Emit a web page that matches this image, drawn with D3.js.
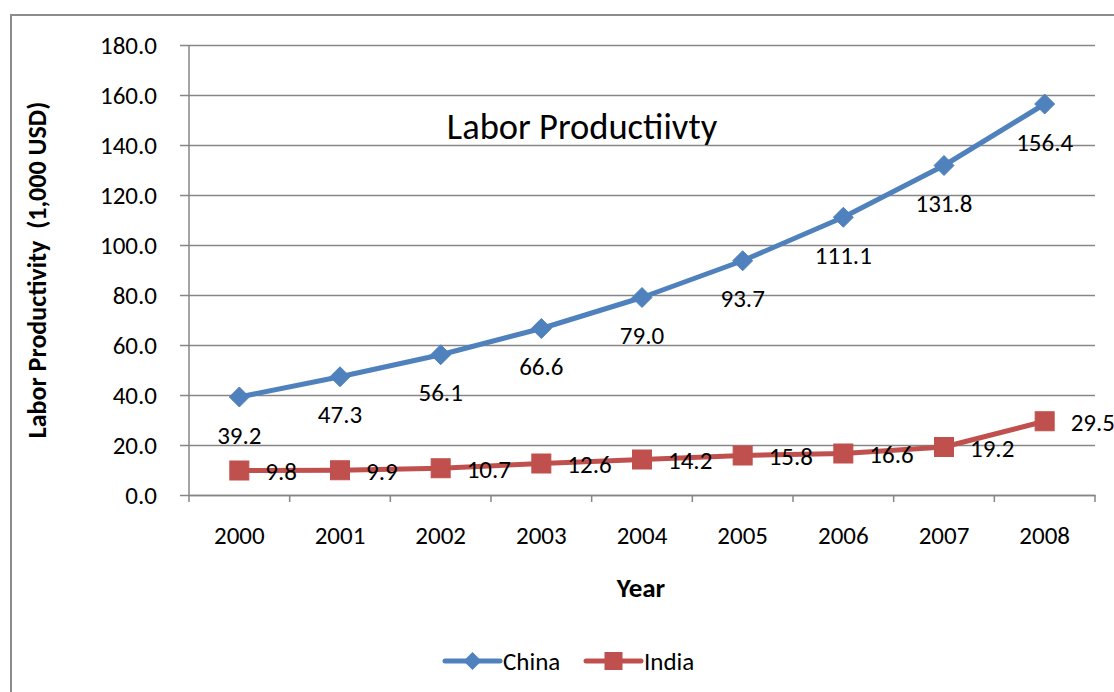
<!DOCTYPE html>
<html><head><meta charset="utf-8">
<script src="https://cdn.jsdelivr.net/npm/d3@7"></script>
<style>
html,body{margin:0;padding:0;background:#fff;}
svg{display:block;}
text{font-family:Carlito, Calibri, Lato, "Open Sans", sans-serif;fill:#000;}
</style></head>
<body>
<svg id="chart" width="1114" height="692"></svg>
<script>
const years = ["2000","2001","2002","2003","2004","2005","2006","2007","2008"];
const china = [39.2, 47.3, 56.1, 66.6, 79.0, 93.7, 111.1, 131.8, 156.4];
const india = [9.8, 9.9, 10.7, 12.6, 14.2, 15.8, 16.6, 19.2, 29.5];
const yTicks = [0, 20, 40, 60, 80, 100, 120, 140, 160, 180];
const seriesNames = ["China", "India"];
const colors = ["#4F81BD", "#C0504D"];

(function () {
const FS = 25;
const svg = d3.select("#chart");
// outer chart border (clipped at right/bottom)
svg.append("rect").attr("x", 11).attr("y", 15).attr("width", 1120).attr("height", 700)
  .attr("fill", "#fff").attr("stroke", "#8c8c8c").attr("stroke-width", 2);

const pL = 189, pR = 1095, pT = 45, pB = 495;
const x = d3.scaleBand().domain(years).range([pL, pR]).padding(0);
const y = d3.scaleLinear().domain([0, 180]).range([pB, pT]);
const cx = d => x(d) + x.bandwidth() / 2;

// gridlines + y axis
const yAxis = d3.axisLeft(y).tickValues(yTicks).tickSize(pR - pL + 9).tickFormat(d3.format(".1f")).tickPadding(8);
const gy = svg.append("g").attr("transform", `translate(${pR},0)`).call(yAxis);
gy.select(".domain").remove();
gy.selectAll(".tick line").attr("stroke", "#868686").attr("stroke-width", 1.5);
gy.selectAll(".tick text").attr("x", -(pR - pL) - 9 - 23).attr("font-size", FS).attr("text-anchor", "end");
// vertical axis line
svg.append("line").attr("x1", pL).attr("x2", pL).attr("y1", pT).attr("y2", pB)
  .attr("stroke", "#868686").attr("stroke-width", 1.5);

// x axis
const xAxis = d3.axisBottom(x).tickSize(0).tickPadding(31);
const gx = svg.append("g").attr("transform", `translate(0,${pB})`).call(xAxis);
gx.select(".domain").attr("stroke", "#868686").attr("stroke-width", 1.5);
gx.selectAll(".tick text").attr("font-size", FS);
// category boundary ticks
const bounds = years.map(d => x(d)).concat([pR]);
svg.append("g").selectAll("line").data(bounds).join("line")
  .attr("x1", d => d).attr("x2", d => d).attr("y1", pB).attr("y2", pB + 7)
  .attr("stroke", "#868686").attr("stroke-width", 1.5);

// lines
const line = d3.line().x((d, i) => cx(years[i])).y(d => y(d));
[china, india].forEach((data, si) => {
  svg.append("path").datum(data).attr("d", line).attr("fill", "none")
    .attr("stroke", colors[si]).attr("stroke-width", 5).attr("stroke-linejoin", "round");
});
// china markers (diamond)
const diamond = (px, py, r) => `M${px},${py - r}L${px + r},${py}L${px},${py + r}L${px - r},${py}Z`;
svg.append("g").selectAll("path").data(china).join("path")
  .attr("d", (d, i) => diamond(cx(years[i]), y(d), 10))
  .attr("fill", colors[0]).attr("stroke", colors[0]).attr("stroke-width", 1);
// india markers (square)
svg.append("g").selectAll("rect").data(india).join("rect")
  .attr("x", (d, i) => cx(years[i]) - 9.5).attr("y", d => y(d) - 9.5)
  .attr("width", 19).attr("height", 19).attr("fill", colors[1]).attr("stroke", colors[1]).attr("stroke-width", 1);

// data labels
svg.append("g").selectAll("text").data(china).join("text")
  .attr("x", (d, i) => cx(years[i])).attr("y", d => y(d) + 38)
  .attr("text-anchor", "middle").attr("dominant-baseline", "central").attr("font-size", FS)
  .text(d => d.toFixed(1));
svg.append("g").selectAll("text").data(india).join("text")
  .attr("x", (d, i) => cx(years[i]) + 26).attr("y", d => y(d) + 1)
  .attr("text-anchor", "start").attr("dominant-baseline", "central").attr("font-size", FS)
  .text(d => d.toFixed(1));

// title
svg.append("text").attr("x", 582).attr("y", 126).attr("text-anchor", "middle")
  .attr("dominant-baseline", "central").attr("font-size", 36.5).text("Labor Productiivty");
// axis titles
svg.append("text").attr("transform", "translate(37,270) rotate(-90)").attr("text-anchor", "middle")
  .attr("dominant-baseline", "central").attr("font-size", 26).attr("font-weight", "bold")
  .style("white-space", "pre").attr("xml:space", "preserve")
  .text("Labor Productivity  (1,000 USD)");
svg.append("text").attr("x", 641).attr("y", 587).attr("text-anchor", "middle")
  .attr("dominant-baseline", "central").attr("font-size", 27).attr("font-weight", "bold").text("Year");

// legend
const legendX = [445, 586];
const lg = svg.append("g");
seriesNames.forEach((name, i) => {
  const lx = legendX[i], ly = 661;
  lg.append("line").attr("x1", lx).attr("x2", lx + 55).attr("y1", ly).attr("y2", ly)
    .attr("stroke", colors[i]).attr("stroke-width", 5).attr("stroke-linecap", "round");
  if (i === 0) lg.append("path").attr("d", diamond(lx + 27.5, ly, 9)).attr("fill", colors[0]);
  else lg.append("rect").attr("x", lx + 27.5 - 9).attr("y", ly - 9).attr("width", 18).attr("height", 18).attr("fill", colors[1]);
  lg.append("text").attr("x", lx + 58).attr("y", ly).attr("dominant-baseline", "central")
    .attr("font-size", FS).text(name);
});
})();
</script>
</body></html>
